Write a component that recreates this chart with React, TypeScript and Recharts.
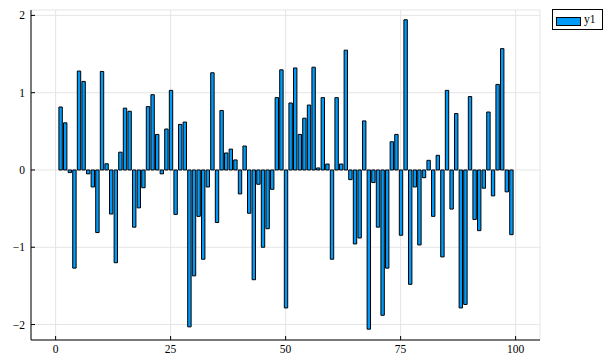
import { ComposedChart, Bar, XAxis, YAxis, CartesianGrid } from 'recharts';

// bar positions 1..99 and their heights
const positions = Array.from({ length: 99 }, (_, i) => i + 1);
const values = [
    0.815, 0.61, -0.034, -1.27, 1.28, 1.146, -0.05, -0.22, -0.81, 1.275,
    0.08, -0.57, -1.2, 0.23, 0.8, 0.76, -0.74, -0.49, -0.23, 0.82,
    0.974, 0.46, -0.05, 0.53, 1.03, -0.575, 0.59, 0.62, -2.03, -1.37,
    -0.6, -1.155, -0.22, 1.258, -0.68, 0.77, 0.22, 0.27, 0.13, -0.31,
    0.31, -0.56, -1.42, -0.185, -1.0, -0.76, -0.25, 0.936, 1.296, -1.785,
    0.867, 1.32, 0.46, 0.67, 0.84, 1.33, 0.026, 0.936, 0.077, -1.155,
    0.936, 0.077, 1.55, -0.125, -0.957, -0.88, 0.635, -2.06, -0.163, -0.74,
    -1.88, -1.27, 0.365, 0.46, -0.845, 1.944, -1.48, -0.22, -0.97, -0.1,
    0.125, -0.6, 0.19, -1.125, 1.03, -0.506, 0.73, -1.785, -1.74, 0.95,
    -0.64, -0.785, -0.236, 0.75, -0.335, 1.107, 1.57, -0.283, -0.837,
];
const xTicks = [0, 25, 50, 75, 100];
const yTicks = [-2, -1, 0, 1, 2];
const seriesName = 'y1';

const data = positions.map((x, i) => ({ x, y1: values[i] }));

const FONT = '"Liberation Serif", "DejaVu Serif", serif';
const BAR_COLOR = '#009af9';

const fmt = (v: number) => (v < 0 ? '\u2212' + Math.abs(v) : String(v));

function YTick({ x, y, payload }: any) {
    return (
        <g>
            <line x1={x} y1={y} x2={x + 4} y2={y} stroke="#000" strokeWidth={1} />
            <text x={x - 6} y={y + 4} textAnchor="end" fontSize={11.5} fontFamily={FONT} fill="#000">
                {fmt(payload.value)}
            </text>
        </g>
    );
}

function XTick({ x, y, payload }: any) {
    return (
        <g>
            <line x1={x} y1={y} x2={x} y2={y - 4} stroke="#000" strokeWidth={1} />
            <text x={x} y={y + 13} textAnchor="middle" fontSize={11.5} fontFamily={FONT} fill="#000">
                {fmt(payload.value)}
            </text>
        </g>
    );
}

function LegendBox() {
    return (
        <div
            style={{
                position: 'absolute',
                left: 552,
                top: 9,
                width: 51,
                height: 21,
                border: '1px solid #000',
                background: '#fff',
                boxSizing: 'border-box',
                fontFamily: FONT,
                fontSize: 11.5,
            }}
        >
            <div
                style={{
                    position: 'absolute',
                    left: 3,
                    top: 7,
                    width: 25,
                    height: 9,
                    background: BAR_COLOR,
                    border: '1px solid #000',
                    boxSizing: 'border-box',
                }}
            />
            <span style={{ position: 'absolute', left: 31, top: 3, lineHeight: '13px' }}>{seriesName}</span>
        </div>
    );
}

export default function App() {
    return (
        <div style={{ position: 'absolute', left: 0, top: 0, width: 610, height: 362, background: '#fff' }}>
            <ComposedChart width={610} height={362} data={data} margin={{ top: 10, right: 70, bottom: 0, left: 0 }}>
                <CartesianGrid stroke="#e5e5e5" strokeWidth={1} />
                <XAxis
                    dataKey="x"
                    type="number"
                    domain={[-5.35, 105.3]}
                    ticks={xTicks}
                    height={22}
                    tickSize={0}
                    tickMargin={0}
                    tickLine={false}
                    tick={<XTick />}
                    axisLine={{ stroke: '#000', strokeWidth: 1 }}
                    allowDataOverflow
                />
                <YAxis
                    type="number"
                    domain={[-2.2, 2.07]}
                    ticks={yTicks}
                    width={31}
                    tickSize={0}
                    tickMargin={0}
                    tickLine={false}
                    tick={<YTick />}
                    axisLine={{ stroke: '#000', strokeWidth: 1 }}
                    allowDataOverflow
                />
                <Bar
                    dataKey="y1"
                    name={seriesName}
                    fill={BAR_COLOR}
                    stroke="#000"
                    strokeWidth={1}
                    barSize={3.4}
                    isAnimationActive={false}
                />
            </ComposedChart>
            <LegendBox />
        </div>
    );
}
